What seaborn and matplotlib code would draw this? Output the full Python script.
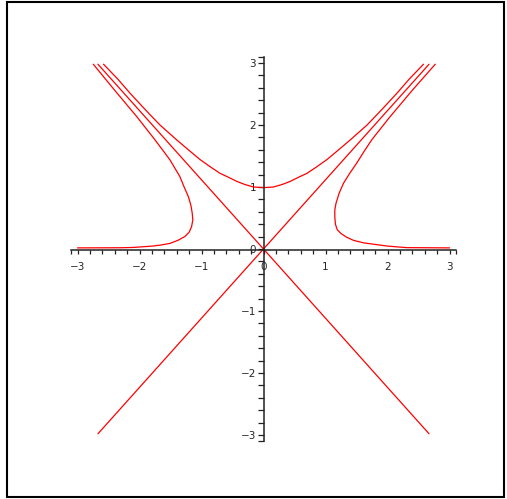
import numpy as np
import pandas as pd
import matplotlib
matplotlib.use("Agg")
import matplotlib.pyplot as plt
import seaborn as sns
from matplotlib.ticker import FixedLocator
from matplotlib.patches import Rectangle

# Curves (data units)
top_x = [-2.58, -2.35, -2.15, -1.90, -1.67, -1.40, -1.20, -1.02, -0.85,
         -0.70, -0.55, -0.43, -0.30, -0.16, 0.00, 0.16, 0.30, 0.43, 0.55,
         0.70, 0.85, 1.02, 1.20, 1.40, 1.67, 1.90, 2.15, 2.35, 2.58]
top_y = [2.98, 2.74, 2.51, 2.24, 2.00, 1.76, 1.59, 1.44, 1.32,
         1.22, 1.15, 1.09, 1.04, 1.00, 0.99, 1.00, 1.04, 1.09, 1.15,
         1.22, 1.32, 1.44, 1.59, 1.76, 2.00, 2.24, 2.51, 2.74, 2.98]

left_x = [-2.745, -2.40, -2.04, -1.75, -1.51, -1.35, -1.28, -1.21, -1.17,
          -1.15, -1.14, -1.16, -1.20, -1.27, -1.38, -1.51, -1.65, -1.78,
          -2.10, -2.31, -3.00]
left_y = [2.98, 2.56, 2.13, 1.76, 1.44, 1.17, 1.00, 0.84, 0.70,
          0.58, 0.47, 0.36, 0.27, 0.20, 0.14, 0.09, 0.065, 0.048,
          0.025, 0.020, 0.018]

right_x = [3.00, 2.31, 1.99, 1.61, 1.45, 1.34, 1.25, 1.19, 1.16, 1.15,
           1.15, 1.17, 1.22, 1.29, 1.39, 1.50, 1.62, 1.745, 2.03, 2.40, 2.77]
right_y = [0.018, 0.022, 0.048, 0.10, 0.14, 0.19, 0.25, 0.31, 0.40, 0.52,
           0.63, 0.74, 0.90, 1.06, 1.22, 1.38, 1.57, 1.76, 2.12, 2.56, 2.98]

rise_x = [-2.67, 2.67]
rise_y = [-2.98, 2.98]
fall_x = [-2.67, 2.67]
fall_y = [2.98, -2.98]

tick_vals = [-3, -2, -1, 0, 1, 2, 3]
tick_text = ["\u22123", "\u22122", "\u22121", "0", "1", "2", "3"]

sns.set_style("white")
plt.rcParams["font.family"] = ["DejaVu Sans"]

fig = plt.figure(figsize=(5.07, 4.99), dpi=100)
ax = fig.add_axes([0, 0, 1, 1])

curves = [(top_x, top_y), (left_x, left_y), (right_x, right_y),
          (rise_x, rise_y), (fall_x, fall_y)]
for cx, cy in curves:
    sns.lineplot(x=cx, y=cy, sort=False, color="#ff0000", linewidth=0.9,
                 estimator=None, ax=ax)

# pixel mapping: origin at (263.5, 249), 62 px per unit
ax.set_xlim(-263.5 / 62, (507 - 263.5) / 62)
ax.set_ylim((249 - 499) / 62, 249 / 62)
ax.set_facecolor("none")

for side in ["top", "right"]:
    ax.spines[side].set_visible(False)
ax.spines["left"].set_position(("data", 0))
ax.spines["bottom"].set_position(("data", -0.022))
for side in ["left", "bottom"]:
    ax.spines[side].set_bounds(-3.1, 3.1)
    ax.spines[side].set_linewidth(1.1)
    ax.spines[side].set_color("#222222")

minor = [v for v in np.round(np.arange(-3.0, 3.01, 0.2), 1) if abs(v - round(v)) > 1e-6]
minor += [-3.1, 3.1]
ax.xaxis.set_major_locator(FixedLocator(tick_vals))
ax.yaxis.set_major_locator(FixedLocator(tick_vals))
ax.xaxis.set_minor_locator(FixedLocator(minor))
ax.yaxis.set_minor_locator(FixedLocator(minor))
ax.set_xticklabels(tick_text)
ax.set_yticklabels(tick_text)

ax.tick_params(axis="x", which="both", direction="out", length=3.2, width=0.9,
               color="#222222", pad=5, labelsize=7.5, bottom=True)
ax.tick_params(axis="y", which="both", direction="out", length=4.6, width=0.9,
               color="#222222", pad=0.8, labelsize=7.5, left=True)
ax.tick_params(which="minor", labelleft=False, labelbottom=False)
ax.grid(False)

# outer frame
fig.patches.append(Rectangle((6.5 / 507, 1 - 497 / 499), (503.5 - 6.5) / 507,
                             (497 - 1.5) / 499, transform=fig.transFigure,
                             fill=False, edgecolor="black", linewidth=1.5))

fig.savefig("out.png", dpi=100)
